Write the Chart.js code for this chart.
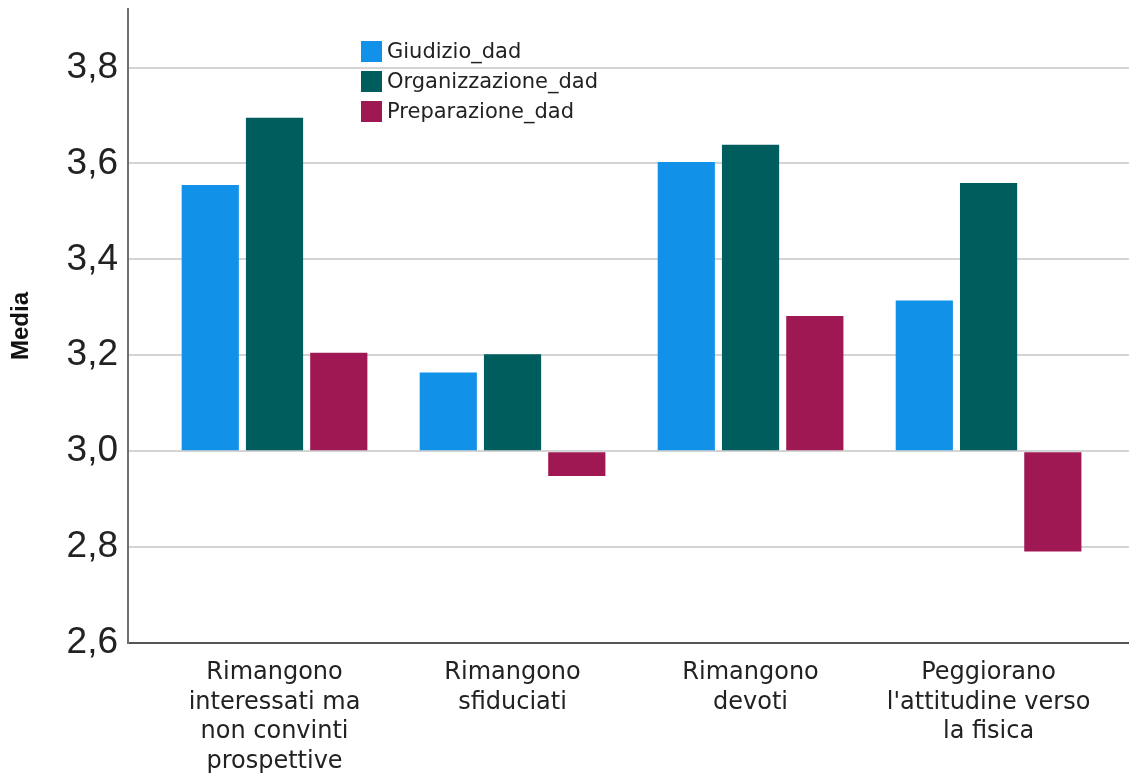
<!DOCTYPE html>
<html>
<head>
<meta charset="utf-8">
<script src="https://cdn.jsdelivr.net/npm/chart.js@4"></script>
<style>
  body { margin: 0; background: #fff; }
  #wrap { position: relative; width: 1129px; height: 777px; }
  #legend { position: absolute; left: 361px; top: 36px; font-family: "DejaVu Sans", sans-serif; font-size: 21px; color: #222; }
  #legend div { display: flex; align-items: center; height: 30px; }
  #legend span.box { display: inline-block; width: 21px; height: 21px; margin-right: 5px; }
</style>
</head>
<body>
<div id="wrap">
  <canvas id="chart"></canvas>
  <div id="legend"></div>
</div>
<script>
// categories (multi-line labels)
const categories = [
    ['Rimangono', 'interessati ma', 'non convinti', 'prospettive'],
    ['Rimangono', 'sfiduciati'],
    ['Rimangono', 'devoti'],
    ['Peggiorano', "l'attitudine verso", 'la fisica']
];
const seriesNames = ['Giudizio_dad', 'Organizzazione_dad', 'Preparazione_dad'];
const giudizio = [3.555, 3.164, 3.603, 3.314];
const organizzazione = [3.695, 3.202, 3.639, 3.559];
const preparazione = [3.205, 2.948, 3.282, 2.791];
const yTicks = [2.6, 2.8, 3.0, 3.2, 3.4, 3.6, 3.8];
const colors = ['#1192e8', '#005d5d', '#9f1853'];

const toPoints = (arr) => arr.map((v, i) => ({ x: i, y: v }));
const seriesValues = [giudizio, organizzazione, preparazione];

const ctx = document.getElementById('chart').getContext('2d');
new Chart(ctx, {
    type: 'bar',
    data: {
        datasets: seriesValues.map((vals, k) => ({
            label: seriesNames[k],
            data: toPoints(vals),
            backgroundColor: colors[k],
            borderWidth: 0,
            base: 3,
            categoryPercentage: 0.81,
            barPercentage: 0.89
        }))
    },
    options: {
        responsive: true,
        maintainAspectRatio: false,
        animation: false,
        layout: { padding: { top: 9, left: 0, right: 0, bottom: 0 } },
        plugins: {
            legend: { display: false },
            tooltip: { enabled: false }
        },
        scales: {
            x: {
                type: 'linear',
                offset: false,
                min: -0.6156,
                max: 3.59,
                grid: { display: false },
                border: { display: true, color: '#555', width: 2 },
                ticks: {
                    stepSize: 1,
                    includeBounds: false,
                    autoSkip: false,
                    maxRotation: 0,
                    padding: 7,
                    color: '#222',
                    font: { family: 'DejaVu Sans', size: 24, lineHeight: 1.23 },
                    callback: (v) => Number.isInteger(v) && categories[v] ? categories[v] : ''
                },
                afterFit: (s) => { s.height = 134; }
            },
            y: {
                min: yTicks[0],
                max: 3.922,
                grid: { color: '#d4d4d4', lineWidth: 2, drawTicks: false },
                border: { display: true, color: '#707070', width: 2 },
                ticks: {
                    stepSize: 0.2,
                    includeBounds: false,
                    padding: 10,
                    color: '#222',
                    font: { family: 'Liberation Sans', size: 37 },
                    callback: (v) => v.toFixed(1).replace('.', ',')
                },
                title: {
                    display: true,
                    text: 'Media',
                    color: '#111',
                    font: { family: 'Liberation Sans', size: 24, weight: 'bold' },
                    padding: { top: 7, bottom: 0 }
                },
                afterFit: (s) => { s.width = 128; s.paddingTop = 0; s.paddingBottom = 0; }
            }
        }
    }
});

// legend built from the series names and colours
const legendEl = document.getElementById('legend');
seriesNames.forEach((name, k) => {
    const row = document.createElement('div');
    const box = document.createElement('span');
    box.className = 'box';
    box.style.background = colors[k];
    row.appendChild(box);
    row.appendChild(document.createTextNode(name));
    legendEl.appendChild(row);
});
</script>
</body>
</html>
